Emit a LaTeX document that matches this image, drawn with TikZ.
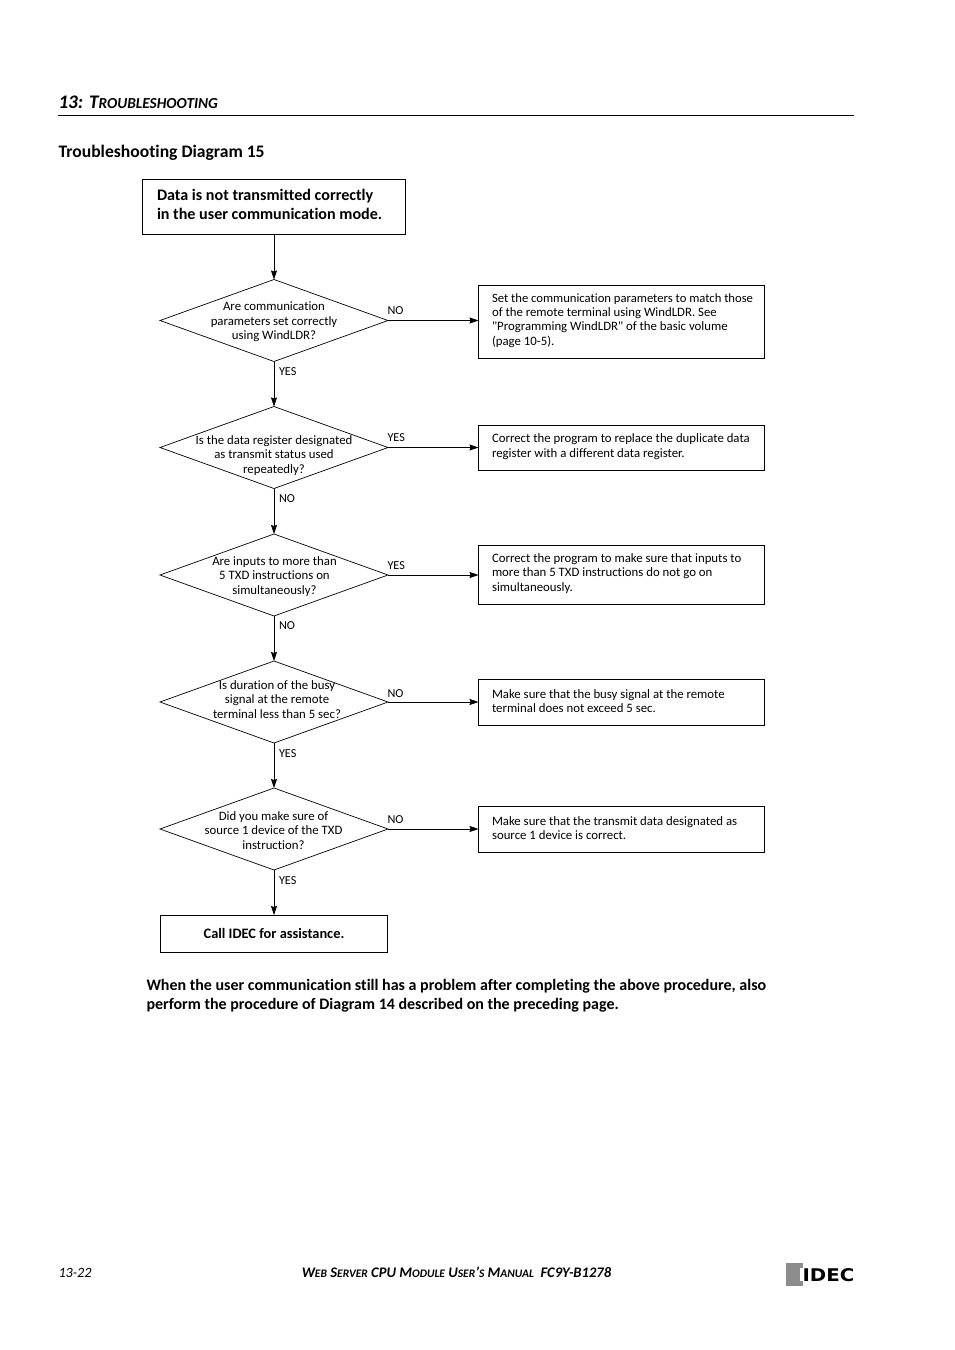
\documentclass[tikz,border=0pt]{standalone}
\usepackage{fontspec}
\setmainfont[Ligatures={NoCommon,TeXOff}]{Carlito}
\newfontfamily\logofont{DejaVu Sans}
\usetikzlibrary{shapes.geometric,arrows.meta}
\tikzset{
  x=1pt,y=-1pt,
  every node/.style={inner sep=0pt,outer sep=0pt},
  dia/.style={draw=black,diamond,line width=.7pt,minimum width=228pt,minimum height=82pt,aspect=2.78},
  txt/.style={font=\fontsize{12.8}{14.4}\selectfont,align=center},
  lab/.style={font=\fontsize{12.2}{14}\selectfont,anchor=base west},
  side/.style={draw=black,line width=.7pt,minimum width=286pt,text width=259pt,anchor=north west,align=flush left,font=\fontsize{12.8}{14.4}\selectfont,execute at end node={\par\vspace{3pt}}},
  arr/.style={line width=.8pt,-{Stealth[length=9pt,width=6pt,inset=1pt]}},
  ttl/.style={anchor=base west,font=\fontsize{17.6}{20}\selectfont\bfseries},
}
\begin{document}
\begin{tikzpicture}
\useasboundingbox (0,0) rectangle (954,1350);
\fill[white] (0,0) rectangle (954,1350);
% header
\node[anchor=base west,font=\fontsize{19.2}{22}\selectfont\bfseries\itshape] (hd) at (58.5,108) {13: T{\fontsize{15.3}{18}\selectfont ROUBLESHOOTING}};
\coordinate (rl) at (58,115.5); \coordinate (rr) at (854,115.5);
\draw[line width=.8pt] (rl) -- (rr);
\node[ttl] (title) at (58.5,157) {Troubleshooting Diagram 15};
% start
\node[draw=black,line width=.8pt,minimum width=263pt,minimum height=55pt,text width=234pt,align=flush left,font=\fontsize{16.1}{18.5}\selectfont\bfseries,execute at end node={\par\vspace{4pt}}] (start) at (274,206.5) {Data is not transmitted correctly\\in the user communication mode.};
% diamonds
\node[dia] (d1) at (274,320.5) {};
\node[dia] (d2) at (274,447.5) {};
\node[dia] (d3) at (274,575) {};
\node[dia] (d4) at (274,702) {};
\node[dia] (d5) at (274,829) {};
\node[txt] (t1) at (274,322) {Are communication\\parameters set correctly\\using WindLDR?};
\node[txt] (t2) at (274,455.5) {Is the data register designated\\as transmit status used\\repeatedly?};
\node[txt] (t3) at (274.5,576.5) {Are inputs to more than\\5 TXD instructions on\\simultaneously?};
\node[txt] (t4) at (277,699.5) {Is duration of the busy\\signal at the remote\\terminal less than 5 sec?};
\node[txt] (t5) at (273.5,830.5) {Did you make sure of\\source 1 device of the TXD\\instruction?};
% end
\node[draw=black,line width=.8pt,minimum width=227pt,minimum height=37pt,font=\fontsize{14.4}{16}\selectfont\bfseries] (end) at (274,933.5) {Call IDEC for assistance.};
% side boxes
\node[side,minimum height=73pt] (b1) at (478.5,285.5) {\mbox{\fontsize{12.65}{14.4}\selectfont Set the communication parameters to match those}\\of the remote terminal using WindLDR. See\\"Programming WindLDR" of the basic volume\\(page 10-5).};
\node[side,minimum height=45pt] (b2) at (478.5,425.5) {Correct the program to replace the duplicate data\\register with a different data register.};
\node[side,minimum height=59pt] (b3) at (478.5,545.5) {Correct the program to make sure that inputs to\\more than 5 TXD instructions do not go on\\simultaneously.};
\node[side,minimum height=46pt] (b4) at (478.5,679.5) {Make sure that the busy signal at the remote\\terminal does not exceed 5 sec.};
\node[side,minimum height=46pt] (b5) at (478.5,806.5) {Make sure that the transmit data designated as\\source 1 device is correct.};
% connectors
\draw[arr] (d1.north |- start.south) -- (d1.north);
\draw[arr] (d1.south) -- (d2.north);
\draw[arr] (d2.south) -- (d3.north);
\draw[arr] (d3.south) -- (d4.north);
\draw[arr] (d4.south) -- (d5.north);
\draw[arr] (d5.south) -- (d5.south |- end.north);
\draw[arr] (d1.east) -- (d1.east -| b1.west);
\draw[arr] (d2.east) -- (d2.east -| b2.west);
\draw[arr] (d3.east) -- (d3.east -| b3.west);
\draw[arr] (d4.east) -- (d4.east -| b4.west);
\draw[arr] (d5.east) -- (d5.east -| b5.west);
% labels
\node[lab] (l1) at (387.5,314) {NO};
\node[lab] (l2) at (279,375) {YES};
\node[lab] (l3) at (387.5,441) {YES};
\node[lab] (l4) at (279,502) {NO};
\node[lab] (l5) at (387.5,569) {YES};
\node[lab] (l6) at (279,629) {NO};
\node[lab] (l7) at (387.5,697) {NO};
\node[lab] (l8) at (279,757) {YES};
\node[lab] (l9) at (387.5,823) {NO};
\node[lab] (l10) at (279,884) {YES};
% note
\node[anchor=north west,align=flush left,font=\fontsize{16}{19.5}\selectfont\bfseries] (note) at (146.5,979) {When the user communication still has a problem after completing the above procedure, also\\perform the procedure of Diagram 14 described on the preceding page.};
% footer
\node[anchor=base west,font=\fontsize{14.2}{16}\selectfont\itshape] (pg) at (58.5,1277) {13-22};
\newcommand{\sm}[1]{{\fontsize{11.5}{13}\selectfont #1}}
\node[anchor=base,font=\fontsize{14.6}{16}\selectfont\bfseries\itshape] (man) at (456.5,1277) {W\sm{EB} S\sm{ERVER} CPU M\sm{ODULE} U\sm{SER}’\sm{S} M\sm{ANUAL}\ \ FC9Y-B1278};
% logo
\fill[black!45] (786,1263) rectangle (803,1286);
\fill[white] (800,1268) rectangle (803,1281);
\node[anchor=base west,font=\logofont\fontsize{17.5}{18}\selectfont\bfseries,xscale=1.13] (logo) at (802.5,1281) {IDEC};
\end{tikzpicture}
\end{document}
